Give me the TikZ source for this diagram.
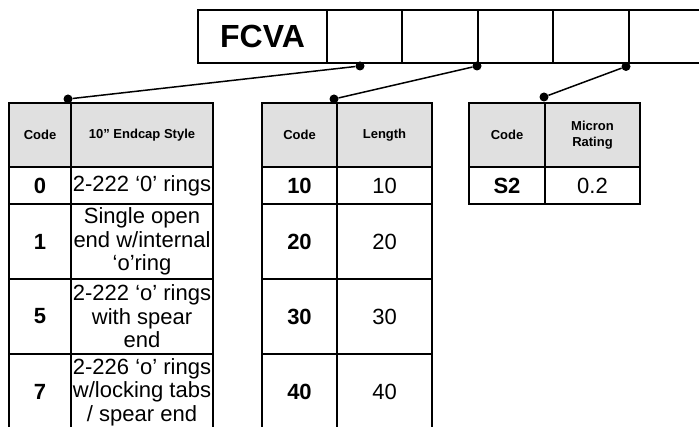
\documentclass[tikz,border=0pt]{standalone}
\usepackage{fontspec}
\setmainfont{Liberation Sans}
\definecolor{hdr}{RGB}{224,224,224}
\tikzset{
  cell/.style={draw, line width=1.8pt, inner sep=0pt, align=center, font=\fontsize{22}{23.5}\selectfont},
  codecell/.style={cell, font=\fontsize{22}{23.5}\selectfont\bfseries},
  hcell/.style={cell, fill=hdr, font=\fontsize{13}{16}\selectfont\bfseries},
  topcell/.style={draw, line width=2pt, inner sep=0pt, minimum height=53pt, font=\fontsize{32}{36}\selectfont\bfseries},
  dot/.style={circle, fill=black, inner sep=0pt, minimum size=9pt},
  link/.style={line width=1.5pt},
}
\begin{document}
\begin{tikzpicture}[x=1pt,y=-1pt]
\useasboundingbox (0,0) rectangle (699,427);
\clip (0,0) rectangle (699,427);
% top strip
\node[topcell, minimum width=129pt] (c1) at (262.5,36.5) {FCVA};
\node[topcell, minimum width=75pt] (c2) at (364.5,36.5) {};
\node[topcell, minimum width=76pt] (c3) at (440,36.5) {};
\node[topcell, minimum width=75pt] (c4) at (515.5,36.5) {};
\node[topcell, minimum width=76pt] (c5) at (591,36.5) {};
\node[topcell, minimum width=76pt] (c6) at (667,36.5) {};
% table 1
\node[hcell, minimum width=62pt, minimum height=64pt] (a0) at (40,135) {Code};
\node[hcell, minimum width=142pt, minimum height=64pt] (b0) at (142,135) {10” Endcap Style};
\node[codecell, minimum width=62pt, minimum height=37pt] (a1) at (40,185.5) {0};
\node[cell, minimum width=142pt, minimum height=37pt] (b1) at (142,185.5) {2-222 ‘0’ rings};
\node[codecell, minimum width=62pt, minimum height=75pt] (a2) at (40,241.5) {1};
\node[cell, minimum width=142pt, minimum height=75pt] (b2) at (142,241.5) {Single open\\end w/internal\\‘o’ring};
\node[codecell, minimum width=62pt, minimum height=75pt] (a3) at (40,316.5) {5};
\node[cell, minimum width=142pt, minimum height=75pt] (b3) at (142,316.5) {2-222 ‘o’ rings\\with spear\\end};
\node[codecell, minimum width=62pt, minimum height=76pt] (a4) at (40,392) {7};
\node[cell, minimum width=142pt, minimum height=76pt] (b4) at (142,392) {2-226 ‘o’ rings\\w/locking tabs\\/ spear end};
% table 2
\node[hcell, minimum width=75pt, minimum height=64pt] (l0) at (299.5,135) {Code};
\node[hcell, minimum width=95pt, minimum height=64pt] (m0) at (384.5,135) {Length};
\node[codecell, minimum width=75pt, minimum height=37pt] (l1) at (299.5,185.5) {10};
\node[cell, minimum width=95pt, minimum height=37pt] (m1) at (384.5,185.5) {10};
\node[codecell, minimum width=75pt, minimum height=75pt] (l2) at (299.5,241.5) {20};
\node[cell, minimum width=95pt, minimum height=75pt] (m2) at (384.5,241.5) {20};
\node[codecell, minimum width=75pt, minimum height=75pt] (l3) at (299.5,316.5) {30};
\node[cell, minimum width=95pt, minimum height=75pt] (m3) at (384.5,316.5) {30};
\node[codecell, minimum width=75pt, minimum height=76pt] (l4) at (299.5,392) {40};
\node[cell, minimum width=95pt, minimum height=76pt] (m4) at (384.5,392) {40};
% table 3
\node[hcell, minimum width=76pt, minimum height=64pt] (r0) at (507,135) {Code};
\node[hcell, minimum width=95pt, minimum height=64pt] (s0) at (592.5,135) {Micron\\Rating};
\node[codecell, minimum width=76pt, minimum height=37pt] (r1) at (507,185.5) {S2};
\node[cell, minimum width=95pt, minimum height=37pt] (s1) at (592.5,185.5) {0.2};
% dots and connectors
\node[dot] (d1) at (360,66) {};
\node[dot] (d2) at (477,66) {};
\node[dot] (d3) at (626,66.5) {};
\node[dot] (e1) at (68,99) {};
\node[dot] (e2) at (334,99) {};
\node[dot] (e3) at (544,97) {};
\draw[link] (d1) -- (e1);
\draw[link] (d2) -- (e2);
\draw[link] (d3) -- (e3);
\end{tikzpicture}
\end{document}
